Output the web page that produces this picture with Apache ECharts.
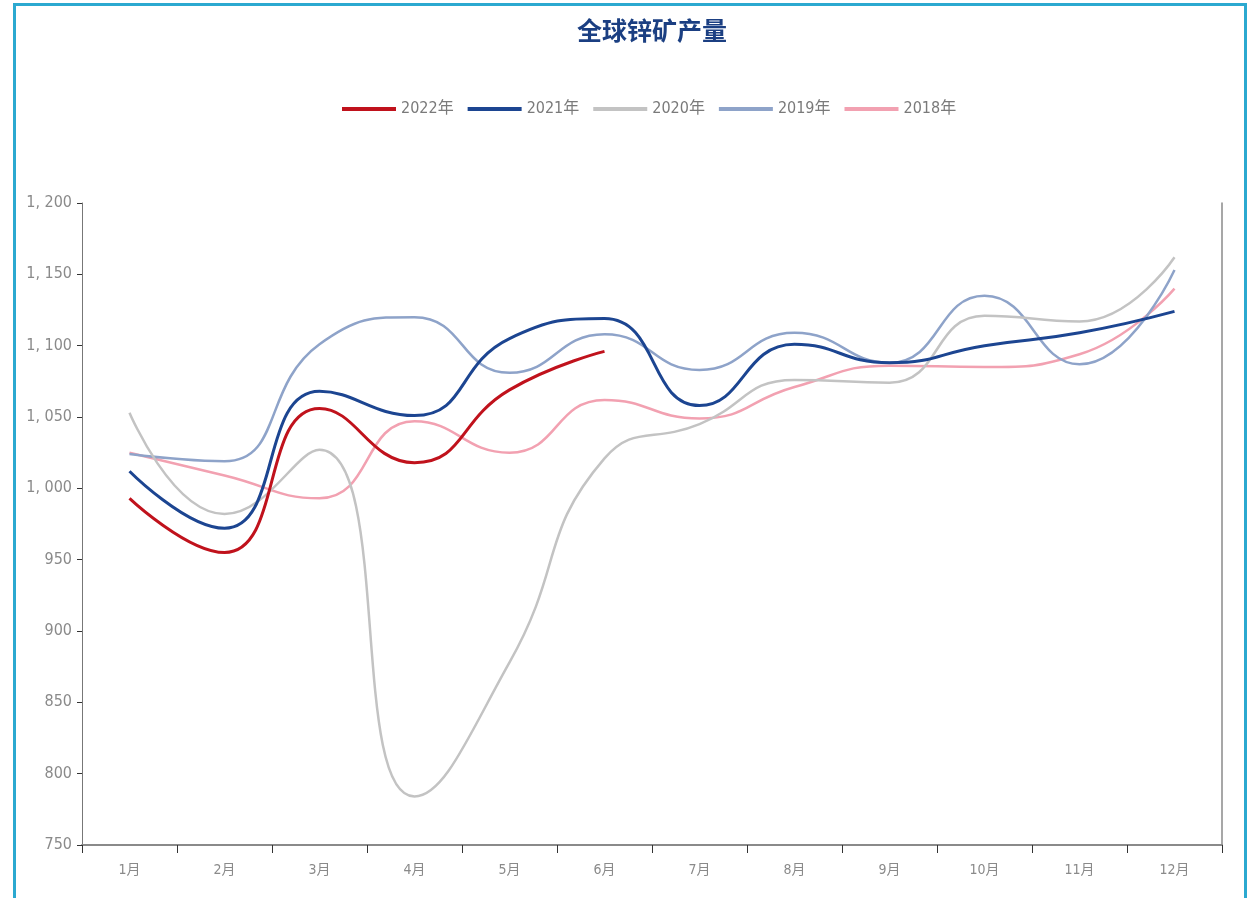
<!DOCTYPE html>
<html>
<head>
<meta charset="utf-8">
<script src="https://cdn.jsdelivr.net/npm/echarts@6/dist/echarts.min.js"></script>
<style>
html,body{margin:0;padding:0;background:#fff;}
#c{width:1255px;height:898px;}
</style>
</head>
<body>
<div id="c"></div>
<script>
const months = ['1月','2月','3月','4月','5月','6月','7月','8月','9月','10月','11月','12月'];
const yTicks = [750, 800, 850, 900, 950, 1000, 1050, 1100, 1150, 1200];
const names = ['2022年','2021年','2020年','2019年','2018年'];
const s2022 = [993, 955, 1056, 1018, 1069, 1096];
const s2021 = [1012, 972, 1068, 1051, 1105, 1119, 1058, 1101, 1088, 1100, 1109, 1124];
const s2020 = [1053, 982, 1027, 784, 878, 1021, 1045, 1076, 1074, 1121, 1117, 1162];
const s2019 = [1024, 1019, 1101, 1120, 1081, 1108, 1083, 1109, 1088, 1135, 1087, 1153];
const s2018 = [1025, 1009, 993, 1047, 1025, 1062, 1049, 1071, 1086, 1085, 1094, 1140];

const colors = ['#C0121C', '#1C4591', '#C3C3C3', '#8EA3C9', '#F2A1B1'];
const widths = [3, 3, 2.5, 2.5, 2.5];
const data = [s2022, s2021, s2020, s2019, s2018];
const narrow = '"Liberation Sans Narrow", "DejaVu Sans Condensed", "Noto Sans CJK SC", sans-serif';

const chart = echarts.init(document.getElementById('c'), null, {renderer: 'canvas'});
chart.setOption({
  animation: false,
  backgroundColor: '#fff',
  title: {
    text: '全球锌矿产量',
    left: 647,
    textAlign: 'center',
    top: 13,
    textStyle: {color: '#1B3F82', fontSize: 25, fontWeight: 'bold', fontFamily: '"Noto Sans CJK SC", serif'}
  },
  legend: {
    data: names,
    left: 337,
    top: 96,
    icon: 'rect',
    itemWidth: 54,
    itemHeight: 4,
    itemGap: 14,
    textStyle: {color: '#7a7a7a', fontSize: 16, fontFamily: narrow}
  },
  grid: {left: 82, right: 33, top: 203, bottom: 53, containLabel: false},
  xAxis: {
    type: 'category',
    data: months,
    boundaryGap: true,
    axisLine: {lineStyle: {color: '#8a8a8a', width: 2}},
    axisTick: {show: true, length: 8, lineStyle: {color: '#333'}, alignWithLabel: false},
    axisLabel: {color: '#8a8a8a', fontSize: 14, margin: 18, fontFamily: narrow}
  },
  yAxis: [{
    type: 'value',
    min: yTicks[0],
    max: yTicks[yTicks.length - 1],
    interval: 50,
    splitLine: {show: false},
    axisLine: {show: true, lineStyle: {color: '#777', width: 1}},
    axisTick: {show: true, length: 5, lineStyle: {color: '#333'}},
    axisLabel: {
      color: '#8a8a8a', fontSize: 16, margin: 10, fontFamily: narrow,
      formatter: v => v >= 1000 ? Math.floor(v / 1000) + ', ' + String(v % 1000).padStart(3, '0') : String(v)
    }
  }, {
    type: 'value',
    position: 'right',
    min: yTicks[0],
    max: yTicks[yTicks.length - 1],
    interval: 50,
    splitLine: {show: false},
    axisLine: {show: true, lineStyle: {color: '#8a8a8a', width: 1.5}},
    axisTick: {show: false},
    axisLabel: {show: false}
  }],
  graphic: [{
    type: 'rect',
    shape: {x: 14.5, y: 4.5, width: 1231, height: 910},
    style: {fill: 'none', stroke: '#2BA9D0', lineWidth: 3},
    silent: true
  }],
  series: names.map((n, i) => ({
    name: n,
    type: 'line',
    data: data[i],
    smooth: 0.5,
    symbol: 'none',
    z: 10 - i,
    lineStyle: {color: colors[i], width: widths[i]},
    itemStyle: {color: colors[i]}
  }))
});
</script>
</body>
</html>
